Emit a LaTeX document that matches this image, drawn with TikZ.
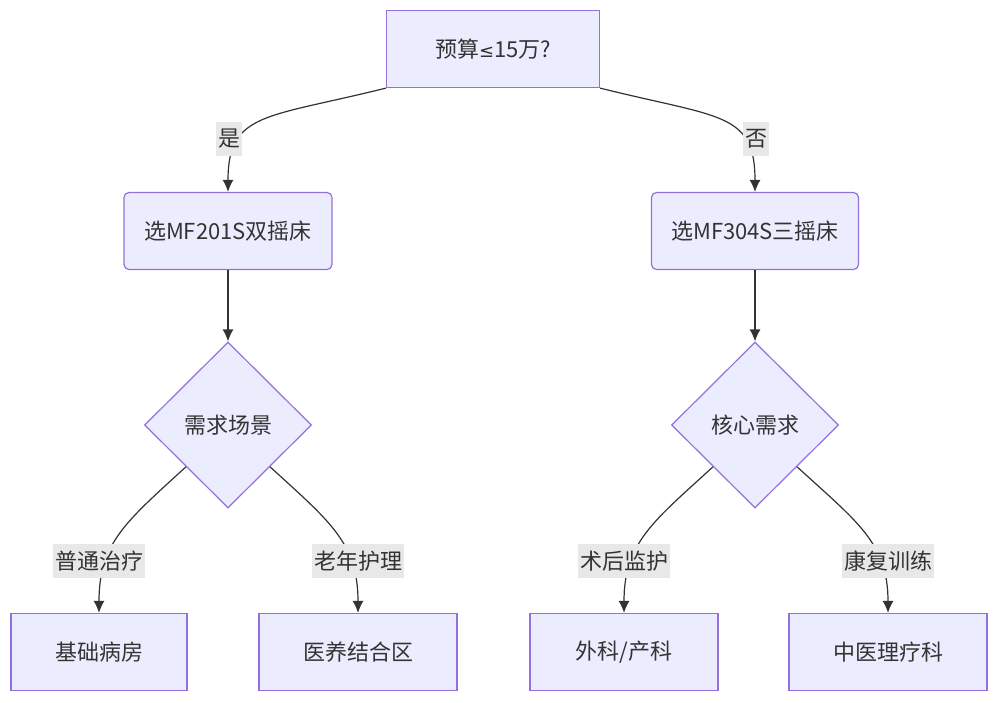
\documentclass[tikz,border=0pt]{standalone}
\usepackage{fontspec}
\setmainfont{Noto Sans CJK SC}
\newfontfamily\symfont{DejaVu Sans}
\usetikzlibrary{shapes.geometric,arrows.meta}
\definecolor{boxfill}{HTML}{ECECFF}
\definecolor{boxline}{HTML}{9370DB}
\definecolor{ink}{HTML}{333333}
\definecolor{lblfill}{HTML}{E8E8E8}

\begin{document}
\begin{tikzpicture}[x=1pt,y=-1pt,
  box/.style={draw=boxline,fill=boxfill,line width=1.2pt,minimum height=77pt,inner sep=0pt,text=ink,font=\fontsize{22}{26}\selectfont},
  choice/.style={diamond,draw=boxline,fill=boxfill,line width=1.2pt,minimum width=167pt,minimum height=166pt,inner sep=0pt,text=ink,font=\fontsize{22}{26}\selectfont},
  edge/.style={draw=ink,line width=1.2pt,-{Latex[length=12pt,width=11pt]}},
  lbl/.style={fill=lblfill,text=ink,inner sep=2pt,minimum height=34pt,font=\fontsize{22}{26}\selectfont}]
\useasboundingbox (0,0) rectangle (1000,703);

\node[box,minimum width=213pt] (budget) at (493,49) {预算{\symfont\fontsize{18}{22}\selectfont ≤}15万?};
\node[box,rounded corners=5pt,minimum width=208pt] (twin) at (228,231) {选MF201S双摇床};
\node[box,rounded corners=5pt,minimum width=207pt] (triple) at (755,231) {选MF304S三摇床};
\node[choice] (scene) at (228,425) {需求场景};
\node[choice] (core) at (755,425) {核心需求};
\node[box,minimum width=176pt] (ward) at (99,652) {基础病房};
\node[box,minimum width=198pt] (elder) at (358,652) {医养结合区};
\node[box,minimum width=188pt] (surg) at (624,652) {外科/产科};
\node[box,minimum width=198pt] (tcm) at (888,652) {中医理疗科};

\draw[edge] (budget.south west) .. controls +(-120,30) and +(0,-80) .. (twin.north);
\draw[edge] (budget.south east) .. controls +(120,30) and +(0,-80) .. (triple.north);
\draw[edge] (twin.south) -- (scene.north);
\draw[edge] (triple.south) -- (core.north);
\draw[edge] (scene.south west) .. controls +(-60,55) and +(0,-70) .. (ward.north);
\draw[edge] (scene.south east) .. controls +(60,55) and +(0,-70) .. (elder.north);
\draw[edge] (core.south west) .. controls +(-60,55) and +(0,-70) .. (surg.north);
\draw[edge] (core.south east) .. controls +(60,55) and +(0,-70) .. (tcm.north);

\node[lbl] (yes) at (229,139) {是};
\node[lbl] (no) at (756,139) {否};
\node[lbl] (plain) at (99,561) {普通治疗};
\node[lbl] (aged) at (358,561) {老年护理};
\node[lbl] (postop) at (624,561) {术后监护};
\node[lbl] (rehab) at (888,561) {康复训练};

\end{tikzpicture}
\end{document}
